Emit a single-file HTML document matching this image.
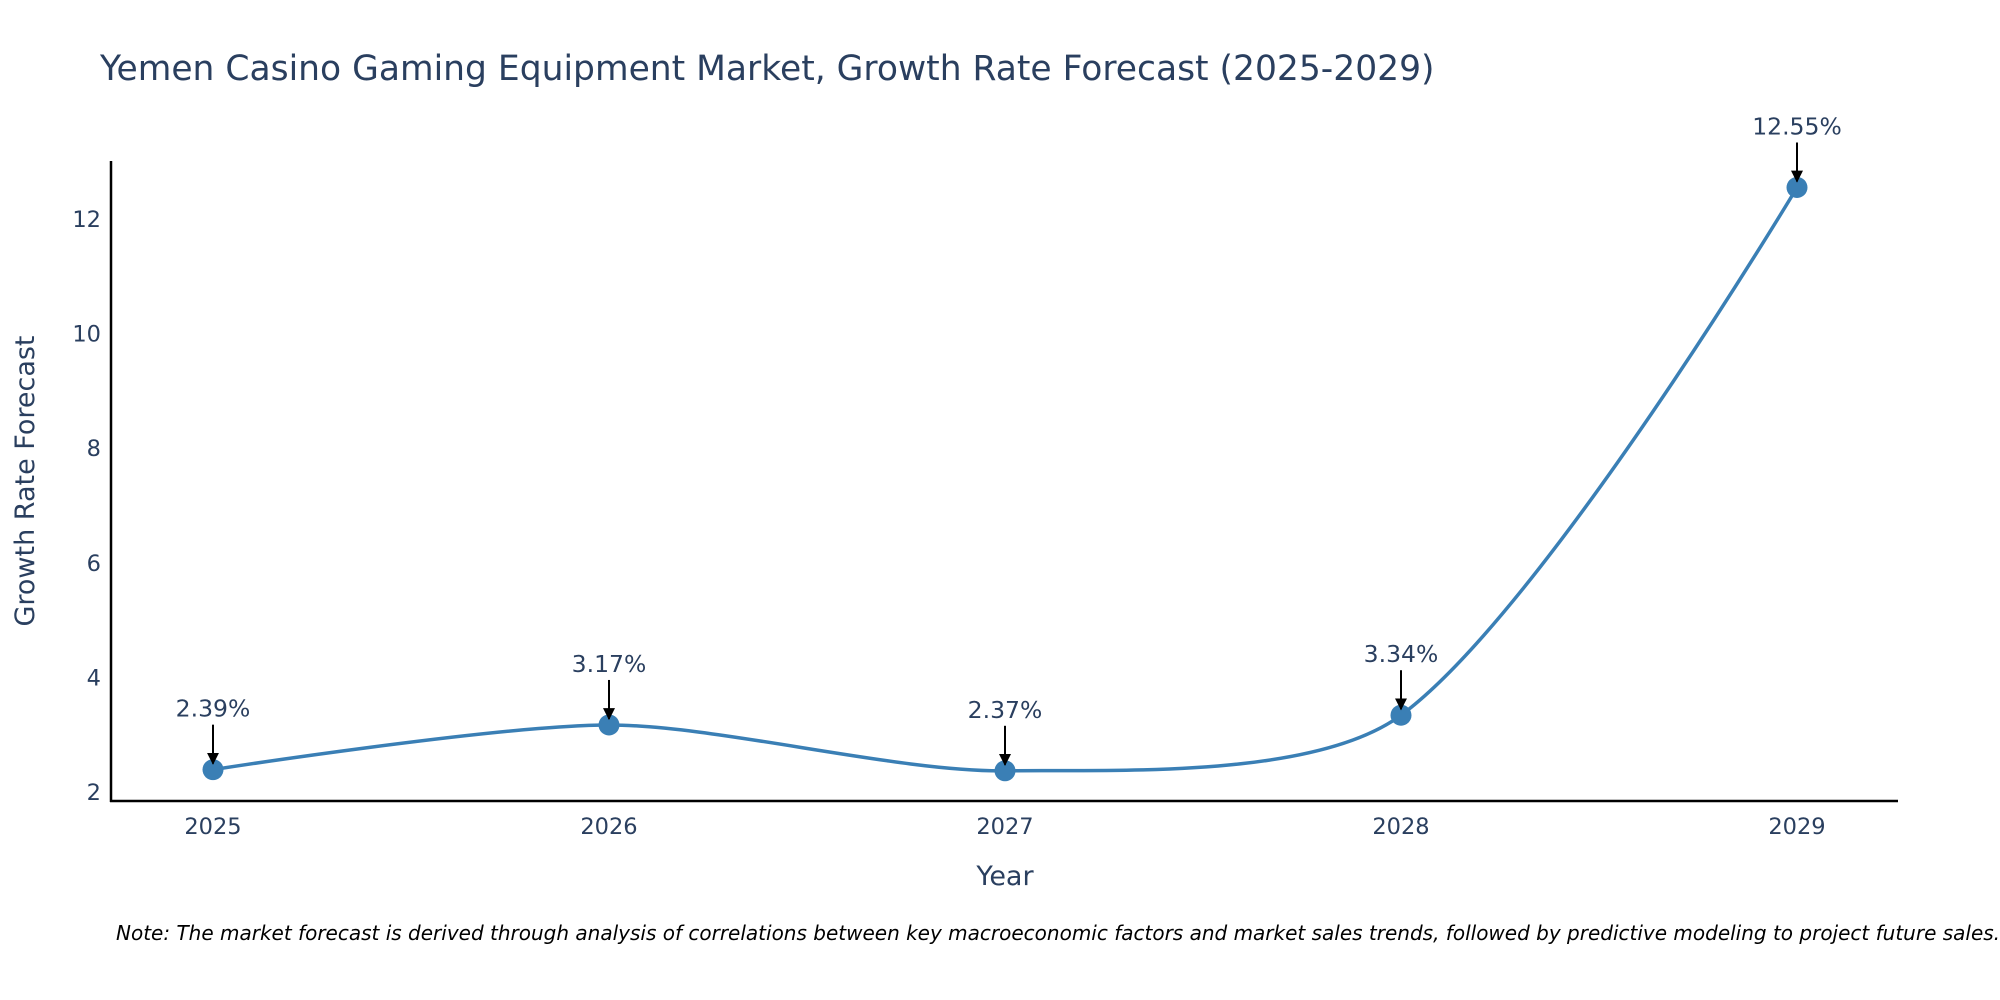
<!DOCTYPE html>
<html><head><meta charset="utf-8"><style>
body{margin:0;background:#fff;}
svg{display:block;font-family:"DejaVu Sans","Liberation Sans",sans-serif;}
</style></head><body>
<svg id="chart" width="2000" height="1000" viewBox="0 0 2000 1000">
<defs><marker id="ah" viewBox="0 0 10 10" refX="9" refY="5" markerWidth="6" markerHeight="6" orient="auto"><path d="M0,0 L10,5 L0,10 z" fill="#000"/></marker></defs>
<text x="100" y="80" font-size="34.5" fill="#2a3f5f">Yemen Casino Gaming Equipment Market, Growth Rate Forecast (2025-2029)</text>
<g id="yticks"></g>
<g id="xticks"></g>
<line x1="111" y1="161" x2="111" y2="802" stroke="#000" stroke-width="2.5"/>
<line x1="110" y1="801" x2="1898" y2="801" stroke="#000" stroke-width="2.5"/>
<path id="line" fill="none" stroke="#3a7fb5" stroke-width="3.5"/>
<g id="pts"></g>
<g id="ann"></g>
<text x="1005" y="885" font-size="27" fill="#2a3f5f" text-anchor="middle">Year</text>
<text transform="translate(34,481) rotate(-90)" font-size="27" fill="#2a3f5f" text-anchor="middle">Growth Rate Forecast</text>
<text x="116" y="940" font-size="20" font-style="italic" fill="#000">Note: The market forecast is derived through analysis of correlations between key macroeconomic factors and market sales trends, followed by predictive modeling to project future sales.</text>
</svg>
<script>
const years=[2025,2026,2027,2028,2029];
const values=[2.39,3.17,2.37,3.34,12.55];
const labels=["2.39%","3.17%","2.37%","3.34%","12.55%"];
const yTicks=[2,4,6,8,10,12];
const NS="http://www.w3.org/2000/svg";
const xs=y=>213+(y-2025)*396;
const ys=v=>792-(v-2)*57.3;
function mk(t,a,p){const e=document.createElementNS(NS,t);for(const k in a)e.setAttribute(k,a[k]);p.appendChild(e);return e;}
const yt=document.getElementById('yticks');
yTicks.forEach(t=>{const e=mk('text',{x:101,y:ys(t)+8,'font-size':22.5,fill:'#2a3f5f','text-anchor':'end'},yt);e.textContent=t;

});
const xt=document.getElementById('xticks');
years.forEach(y=>{const e=mk('text',{x:xs(y),y:834,'font-size':22.5,fill:'#2a3f5f','text-anchor':'middle'},xt);e.textContent=y;

});
const P=years.map((y,i)=>[xs(y),ys(values[i])]);
const dist=(a,b)=>Math.hypot(a[0]-b[0],a[1]-b[1]);
const k=0.27;
const before=[],after=[];
P.forEach((p,i)=>{
 if(i===0||i===P.length-1){before.push(p);after.push(p);return;}
 const a=P[i-1],b=P[i+1];const dx=b[0]-a[0],dy=b[1]-a[1],L=Math.hypot(dx,dy);
 const ux=dx/L,uy=dy/L,d1=dist(a,p),d2=dist(p,b);
 before.push([p[0]-ux*d1*k,p[1]-uy*d1*k]);after.push([p[0]+ux*d2*k,p[1]+uy*d2*k]);
});
let d=`M${P[0][0]},${P[0][1]}`;
for(let i=0;i<P.length-1;i++){const c1=after[i],c2=before[i+1],p2=P[i+1];
d+=` C${c1[0]},${c1[1]} ${c2[0]},${c2[1]} ${p2[0]},${p2[1]}`;}
document.getElementById('line').setAttribute('d',d);
const pts=document.getElementById('pts'),ann=document.getElementById('ann');
P.forEach((p,i)=>{const c=mk('circle',{cx:p[0],cy:p[1],r:10.5,fill:'#3a7fb5'},pts);


const a=mk('line',{x1:p[0],y1:p[1]-45,x2:p[0],y2:p[1]-6,stroke:'#000','stroke-width':2,'marker-end':'url(#ah)'},ann);


const t=mk('text',{x:p[0],y:p[1]-53,'font-size':23.5,fill:'#2a3f5f','text-anchor':'middle'},ann);t.textContent=labels[i];

});
</script>
</body></html>
